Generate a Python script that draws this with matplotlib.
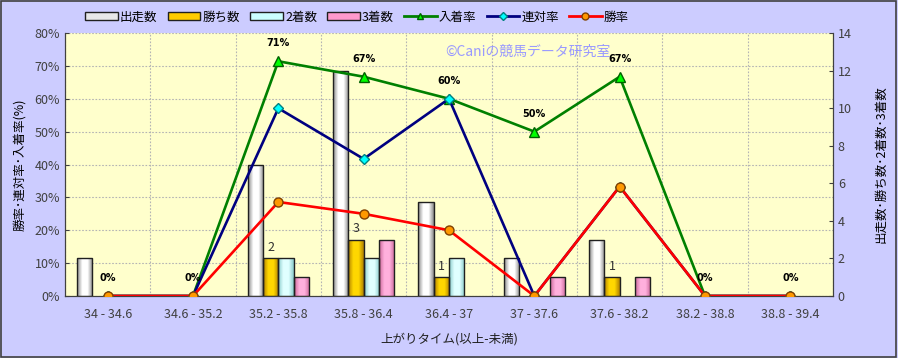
import numpy as np
import matplotlib
matplotlib.use("Agg")
import matplotlib.pyplot as plt
from matplotlib.lines import Line2D
from matplotlib.patches import Patch, Rectangle
from matplotlib.colors import LinearSegmentedColormap

plt.rcParams['font.family'] = ['Noto Sans CJK JP', 'DejaVu Sans']

categories = ["34 - 34.6", "34.6 - 35.2", "35.2 - 35.8", "35.8 - 36.4", "36.4 - 37",
              "37 - 37.6", "37.6 - 38.2", "38.2 - 38.8", "38.8 - 39.4"]
runs = [2, 0, 7, 12, 5, 2, 3, 0, 0]
wins = [0, 0, 2, 3, 1, 0, 1, 0, 0]
seconds = [0, 0, 2, 2, 2, 0, 0, 0, 0]
thirds = [0, 0, 1, 3, 0, 1, 1, 0, 0]
place_rate = [0, 0, 71.4, 66.7, 60.0, 50.0, 66.7, 0, 0]
quinella_rate = [0, 0, 57.1, 41.7, 60.0, 0, 33.3, 0, 0]
win_rate = [0, 0, 28.6, 25.0, 20.0, 0, 33.3, 0, 0]
place_labels = ["0%", "0%", "71%", "67%", "60%", "50%", "67%", "0%", "0%"]

W, H = 898, 358
fig = plt.figure(figsize=(W / 100, H / 100), dpi=100, facecolor="#CCCCFF")
fig.add_artist(Rectangle((0.001, 0.002), 0.997, 0.995, transform=fig.transFigure,
                         fill=False, edgecolor="#404040", lw=1.2))
axr = fig.add_axes([65 / W, 1 - 296 / H, (833 - 65) / W, (296 - 33) / H])
axc = axr.twinx()
axr.set_facecolor("#FFFFCC")
axr.set_zorder(0)
axc.set_zorder(1)
axc.patch.set_visible(False)

x = np.arange(len(categories))
bw = 0.18
bar_specs = [
    (runs, -1.5, ("#8a8a8a", "#ffffff", "#8a8a8a")),
    (wins, -0.5, ("#b08000", "#ffd700", "#b08000")),
    (seconds, 0.5, ("#88cccc", "#e0ffff", "#88cccc")),
    (thirds, 1.5, ("#cc6699", "#ffb0dd", "#cc6699")),
]

for vals, off, cols in bar_specs:
    cmap = LinearSegmentedColormap.from_list("g", [cols[0], cols[1], cols[1], cols[0]])
    bars = axc.bar(x + off * bw, vals, bw, facecolor=cols[1], edgecolor="#202020", lw=1.0, zorder=2)
    for b in bars:
        if b.get_height() <= 0:
            b.set_visible(False)
            continue
        bx, by = b.get_x(), b.get_y()
        grad = np.linspace(0, 1, 64).reshape(1, -1)
        im = axc.imshow(grad, cmap=cmap, aspect="auto", zorder=2,
                        extent=(bx, bx + b.get_width(), by, by + b.get_height()))
        im.set_clip_path(b)
        b.set_facecolor("none")
        b.set_zorder(3)

for i, v in enumerate(wins):
    if v > 0:
        axc.text(x[i] - 0.5 * bw, v + 0.25, str(v), ha="center", va="bottom",
                 fontsize=9, color="#303030", zorder=5)

axc.set_ylim(0, 14)
axc.set_yticks(range(0, 15, 2))

scale = 14 / 80.0
def sc(v):
    return [u * scale for u in v]

axc.plot(x, sc(place_rate), color="#008000", lw=1.9, marker="^", ms=7,
         mfc="#00FF00", mec="#006000", zorder=6)
axc.plot(x, sc(quinella_rate), color="#000080", lw=1.9, marker="D", ms=5,
         mfc="#00FFFF", mec="#008080", zorder=7)
axc.plot(x, sc(win_rate), color="#FF0000", lw=1.9, marker="o", ms=6.5,
         mfc="#FF9900", mec="#804000", zorder=8)

for i, lab in enumerate(place_labels):
    axc.annotate(lab, (x[i], place_rate[i] * scale), xytext=(0, 13), textcoords="offset points",
                 ha="center", va="center", fontsize=7, fontweight="bold", color="black", zorder=9,
                 family=["DejaVu Sans"])

axr.set_ylim(0, 80)
axr.set_yticks(range(0, 81, 10))
axr.set_yticklabels([f"{v}%" for v in range(0, 81, 10)])
axr.set_xlim(-0.5, len(categories) - 0.5)
axr.set_xticks(x)
axr.set_xticklabels(categories)
axr.set_xticks(np.arange(-0.5, len(categories)), minor=True)
axr.grid(True, axis="y", ls=(0, (1.5, 1.5)), color="#b4b4b4", lw=0.8)
axr.grid(True, axis="x", which="minor", ls=(0, (1.5, 1.5)), color="#b4b4b4", lw=0.8)
axr.tick_params(axis="x", which="major", length=0, colors="#404040", labelsize=9, pad=9)
axr.tick_params(axis="x", which="minor", length=0)
axr.tick_params(axis="y", colors="#404040", labelsize=9, length=3, direction="in")
axc.tick_params(axis="y", colors="#404040", labelsize=9, length=3, direction="in")

for a in (axr, axc):
    a.spines["top"].set_visible(False)
    a.spines["left"].set_color("#404040")
    a.spines["right"].set_color("#404040")
    a.spines["bottom"].set_color("#404040")

axr.set_ylabel("勝率･連対率･入着率(%)", fontsize=9, color="black", labelpad=6)
axc.set_ylabel("出走数･勝ち数･2着数･3着数", fontsize=9, color="black", rotation=90, labelpad=16)
axr.set_xlabel("上がりタイム(以上-未満)", fontsize=9, color="#202020", labelpad=8)

axr.text(0.495, 0.93, "©Caniの競馬データ研究室", transform=axr.transAxes, fontsize=10,
         color="#9999FF", ha="left", va="center", zorder=10)

handles = [
    Patch(facecolor="#e8e8e8", edgecolor="#202020", label="出走数"),
    Patch(facecolor="#ffcc00", edgecolor="#202020", label="勝ち数"),
    Patch(facecolor="#ccffff", edgecolor="#202020", label="2着数"),
    Patch(facecolor="#ff99cc", edgecolor="#202020", label="3着数"),
    Line2D([], [], color="#008000", lw=2, marker="^", ms=5, mfc="#00FF00", mec="#006000", label="入着率"),
    Line2D([], [], color="#000080", lw=2, marker="D", ms=4, mfc="#00FFFF", mec="#008080", label="連対率"),
    Line2D([], [], color="#FF0000", lw=2, marker="o", ms=5, mfc="#FF9900", mec="#804000", label="勝率"),
]
fig.legend(handles=handles, loc="center left", bbox_to_anchor=(80 / W, 1 - 17 / H), ncol=7,
           frameon=False, fontsize=9, handlelength=2.6, handleheight=0.6, columnspacing=0.8,
           handletextpad=0.2, borderaxespad=0)

fig.savefig("out.png", dpi=100, facecolor=fig.get_facecolor())
